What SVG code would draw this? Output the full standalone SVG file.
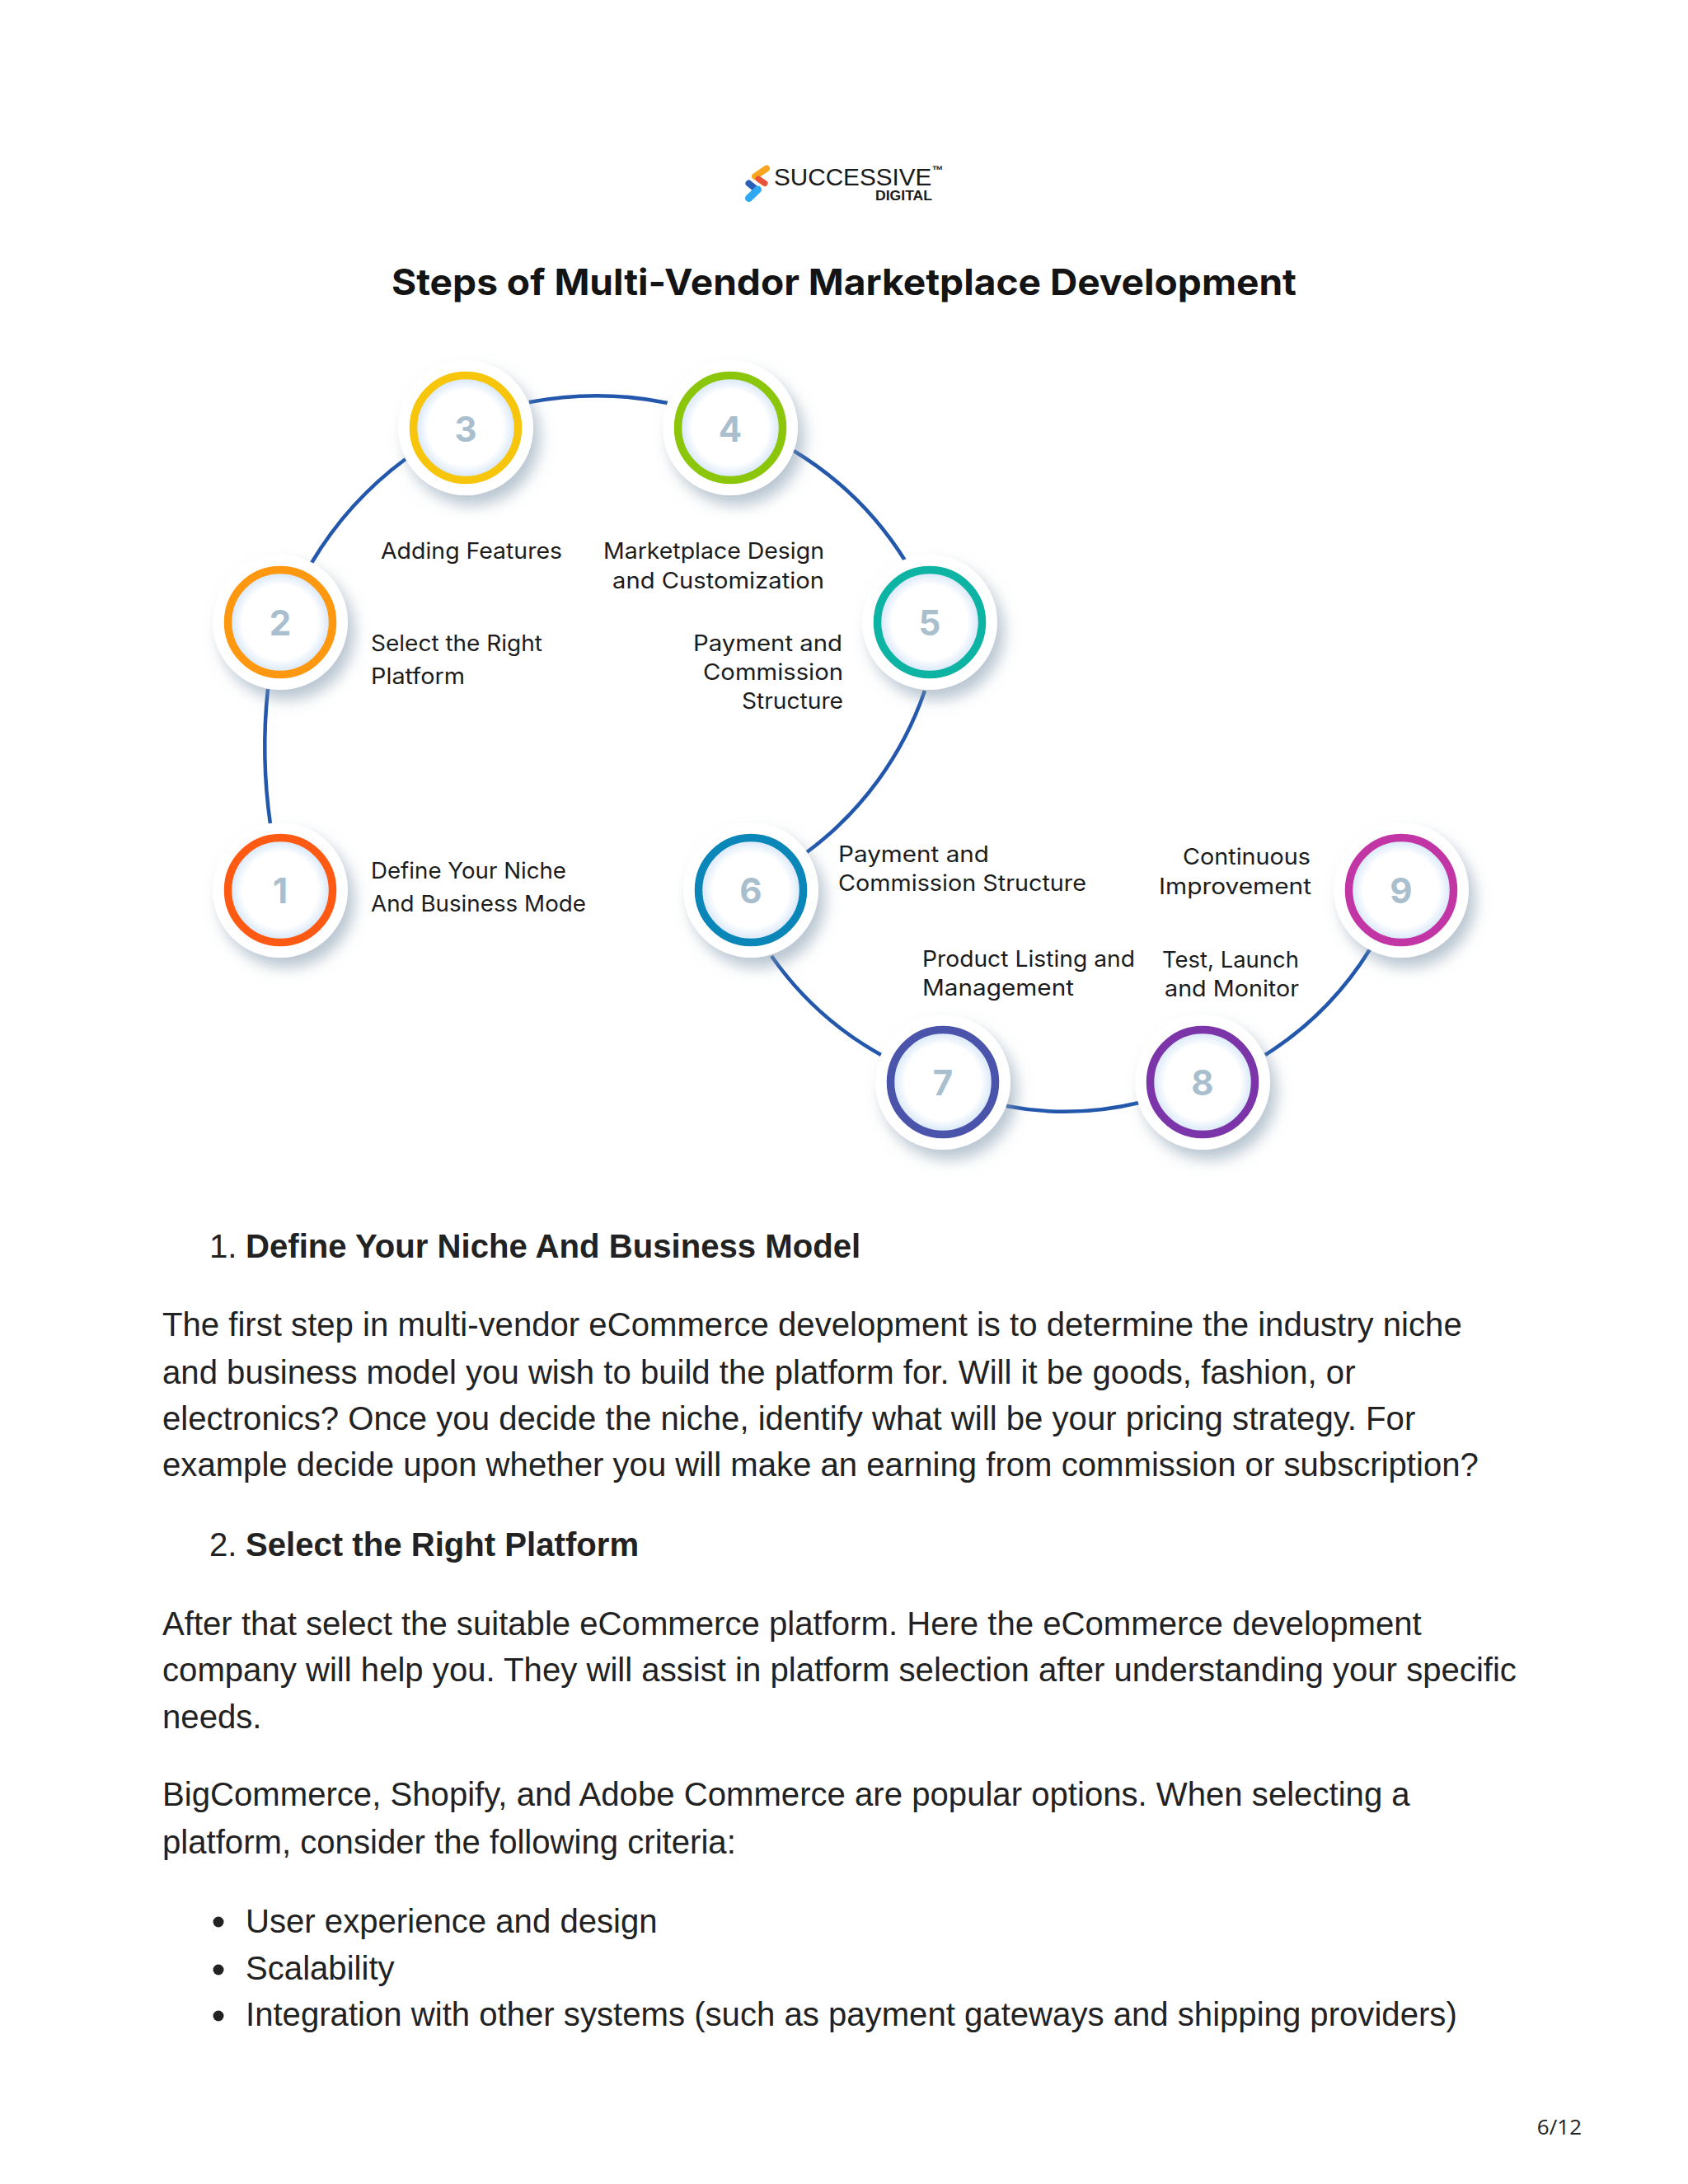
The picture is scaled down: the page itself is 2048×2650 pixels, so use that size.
<svg xmlns="http://www.w3.org/2000/svg" width="2048" height="2650" viewBox="0 0 2048 2650">
<style>
.b{font-family:"Liberation Sans",Arial,sans-serif;font-size:40.13px;fill:#222}
.h{font-weight:700}
.l{font-family:"Inter","Noto Sans",sans-serif;font-size:27px;fill:#1c1c1c}
.n{font-family:"Inter",sans-serif;font-size:42px;font-weight:700;fill:#a9bfcd;text-anchor:middle}
.r{fill:url(#glow);stroke-width:9.5}
.d{fill:#fff;filter:url(#sh)}
.c{fill:none;stroke:#2257ac;stroke-width:4.5}
.m{fill:none;stroke-linecap:round}
.lg{font-family:"Liberation Sans",sans-serif;fill:#1a1a1a}
</style>
<defs>
<filter id="sh" x="-30%" y="-30%" width="170%" height="170%"><feDropShadow dx="8" dy="12" stdDeviation="9" flood-color="#7f97ab" flood-opacity=".55"/></filter>
<radialGradient id="glow"><stop offset=".72" stop-color="#fff"/><stop offset="1" stop-color="#cfe2f7"/></radialGradient>
</defs>
<rect width="2048" height="2650" fill="#fff"/>
<g id="logo">
<path class="m" d="M930 204.500 L916 214" stroke="#f9a61e" stroke-width="8"/>
<path class="m" d="M920 217 L928 222.500" stroke="#e8533a" stroke-width="7"/>
<path class="m" d="M908.500 222.500 L916.500 229" stroke="#2a5fb8" stroke-width="8"/>
<path class="m" d="M919.500 230 L908.500 240.500" stroke="#2fa8f2" stroke-width="9"/>
<text class="lg" x="939" y="225" font-size="29.7">SUCCESSIVE<tspan font-size="14" font-weight="700" dy="-14">™</tspan></text>
<text class="lg" x="1062" y="243" font-size="17" font-weight="700" textLength="69" lengthAdjust="spacingAndGlyphs">DIGITAL</text>
</g>
<text id="title" x="475" y="358" font-family="Inter,sans-serif" font-size="44" font-weight="700" fill="#141414" textLength="1098" lengthAdjust="spacingAndGlyphs">Steps of Multi-Vendor Marketplace Development</text>
<g id="connectors">
<path class="c" d="M328 1000 A660 660 0 0 1 325 836"/>
<path class="c" d="M378 683 A430 430 0 0 1 492 557"/>
<path class="c" d="M642 488 A430 430 0 0 1 810 489"/>
<path class="c" d="M963 547 A410 410 0 0 1 1098 680"/>
<path class="c" d="M1122 838 A410 410 0 0 1 979 1034"/>
<path class="c" d="M936 1160 A400 400 0 0 0 1069 1280"/>
<path class="c" d="M1221 1342 A380 380 0 0 0 1382 1338"/>
<path class="c" d="M1535 1280 A400 400 0 0 0 1662 1152"/>
</g>
<g id="n1"><circle class="d" cx="340" cy="1080" r="82"/><circle class="r" stroke="#ff5a14" cx="340" cy="1080" r="63.500"/><text class="n" x="340" y="1096">1</text></g>
<g id="n2"><circle class="d" cx="340" cy="755" r="82"/><circle class="r" stroke="#ff9811" cx="340" cy="755" r="63.500"/><text class="n" x="340" y="771">2</text></g>
<g id="n3"><circle class="d" cx="565" cy="519" r="82"/><circle class="r" stroke="#f7c60c" cx="565" cy="519" r="63.500"/><text class="n" x="565" y="536">3</text></g>
<g id="n4"><circle class="d" cx="886" cy="519" r="82"/><circle class="r" stroke="#8cc60b" cx="886" cy="519" r="63.500"/><text class="n" x="886" y="536">4</text></g>
<g id="n5"><circle class="d" cx="1128" cy="755" r="82"/><circle class="r" stroke="#0db3a3" cx="1128" cy="755" r="63.500"/><text class="n" x="1128" y="771">5</text></g>
<g id="n6"><circle class="d" cx="911" cy="1080" r="82"/><circle class="r" stroke="#0a86b8" cx="911" cy="1080" r="63.500"/><text class="n" x="911" y="1096">6</text></g>
<g id="n7"><circle class="d" cx="1144" cy="1313" r="82"/><circle class="r" stroke="#4a54ab" cx="1144" cy="1313" r="63.500"/><text class="n" x="1144" y="1329">7</text></g>
<g id="n8"><circle class="d" cx="1459" cy="1313" r="82"/><circle class="r" stroke="#7b35a8" cx="1459" cy="1313" r="63.500"/><text class="n" x="1459" y="1329">8</text></g>
<g id="n9"><circle class="d" cx="1700" cy="1080" r="82"/><circle class="r" stroke="#c135a5" cx="1700" cy="1080" r="63.500"/><text class="n" x="1700" y="1096">9</text></g>
<g id="labels">
<text class="l" x="462" y="678" textLength="220" lengthAdjust="spacingAndGlyphs">Adding Features</text>
<text class="l" x="732" y="678" textLength="268" lengthAdjust="spacingAndGlyphs">Marketplace Design</text>
<text class="l" x="743" y="714" textLength="257" lengthAdjust="spacingAndGlyphs">and Customization</text>
<text class="l" x="450" y="790" textLength="208" lengthAdjust="spacingAndGlyphs">Select the Right</text>
<text class="l" x="450" y="830" textLength="114" lengthAdjust="spacingAndGlyphs">Platform</text>
<text class="l" x="841" y="790" textLength="181" lengthAdjust="spacingAndGlyphs">Payment and</text>
<text class="l" x="853" y="825" textLength="170" lengthAdjust="spacingAndGlyphs">Commission</text>
<text class="l" x="900" y="860" textLength="123" lengthAdjust="spacingAndGlyphs">Structure</text>
<text class="l" x="450" y="1066" textLength="237" lengthAdjust="spacingAndGlyphs">Define Your Niche</text>
<text class="l" x="450" y="1106" textLength="261" lengthAdjust="spacingAndGlyphs">And Business Mode</text>
<text class="l" x="1017" y="1046" textLength="183" lengthAdjust="spacingAndGlyphs">Payment and</text>
<text class="l" x="1017" y="1081" textLength="301" lengthAdjust="spacingAndGlyphs">Commission Structure</text>
<text class="l" x="1119" y="1173" textLength="258" lengthAdjust="spacingAndGlyphs">Product Listing and</text>
<text class="l" x="1119" y="1208" textLength="184" lengthAdjust="spacingAndGlyphs">Management</text>
<text class="l" x="1435" y="1049" textLength="155" lengthAdjust="spacingAndGlyphs">Continuous</text>
<text class="l" x="1406" y="1085" textLength="185" lengthAdjust="spacingAndGlyphs">Improvement</text>
<text class="l" x="1410" y="1174" textLength="166" lengthAdjust="spacingAndGlyphs">Test, Launch</text>
<text class="l" x="1413" y="1209" textLength="163" lengthAdjust="spacingAndGlyphs">and Monitor</text>
</g>
<g id="body">
<text class="b" x="254" y="1526">1. <tspan class="h" x="298">Define Your Niche And Business Model</tspan></text>
<text class="b" x="197" y="1621">The first step in multi-vendor eCommerce development is to determine the industry niche</text>
<text class="b" x="197" y="1679">and business model you wish to build the platform for. Will it be goods, fashion, or</text>
<text class="b" x="197" y="1735">electronics? Once you decide the niche, identify what will be your pricing strategy. For</text>
<text class="b" x="197" y="1791">example decide upon whether you will make an earning from commission or subscription?</text>
<text class="b" x="254" y="1888">2. <tspan class="h" x="298">Select the Right Platform</tspan></text>
<text class="b" x="197" y="1984">After that select the suitable eCommerce platform. Here the eCommerce development</text>
<text class="b" x="197" y="2040">company will help you. They will assist in platform selection after understanding your specific</text>
<text class="b" x="197" y="2097">needs.</text>
<text class="b" x="197" y="2191">BigCommerce, Shopify, and Adobe Commerce are popular options. When selecting a</text>
<text class="b" x="197" y="2249">platform, consider the following criteria:</text>
<circle cx="265" cy="2332" r="6.500" fill="#222"/><text class="b" x="298" y="2345">User experience and design</text>
<circle cx="265" cy="2390" r="6.500" fill="#222"/><text class="b" x="298" y="2402">Scalability</text>
<circle cx="265" cy="2446" r="6.500" fill="#222"/><text class="b" x="298" y="2458">Integration with other systems (such as payment gateways and shipping providers)</text>
</g>
<text id="page" x="1919" y="2590" text-anchor="end" font-family="Open Sans,sans-serif" font-size="26" fill="#222">6/12</text>
</svg>
